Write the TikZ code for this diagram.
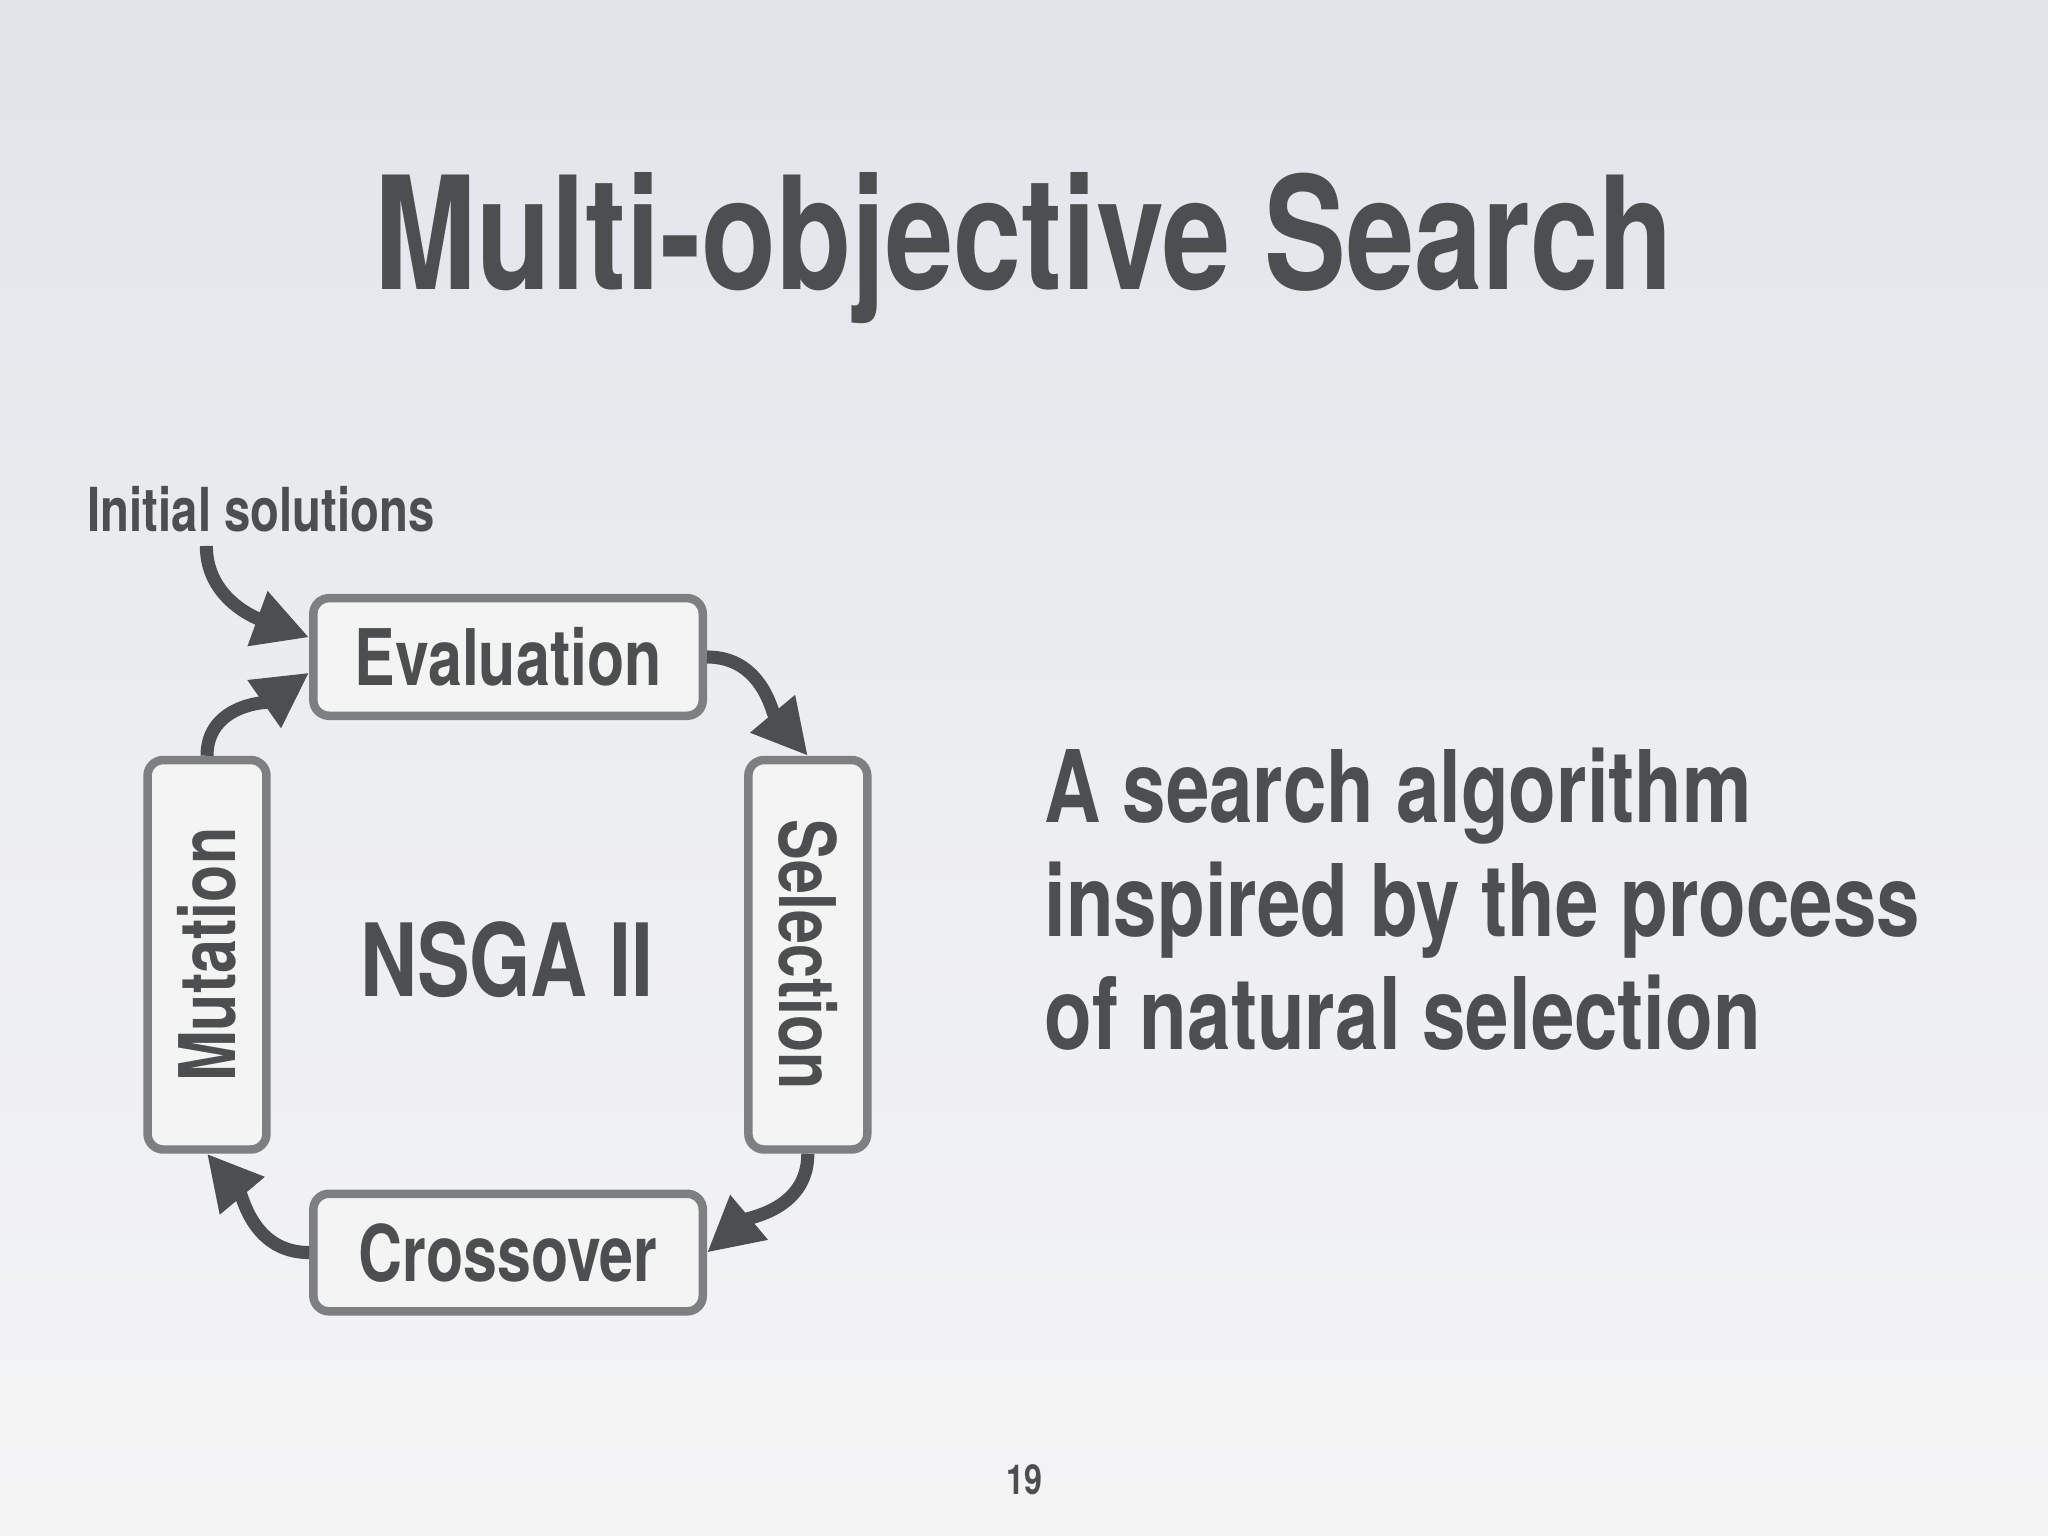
\documentclass[tikz,border=0pt]{standalone}
\usepackage{fontspec}
\setmainfont{TeX Gyre Heros}[FakeStretch=0.78]
\usetikzlibrary{arrows.meta}
\definecolor{ink}{HTML}{4D4E50}
\definecolor{boxc}{HTML}{7E7F81}
\definecolor{bgtop}{HTML}{E2E4EA}
\definecolor{bgbot}{HTML}{F4F4F5}
\begin{document}
\begin{tikzpicture}[x=0.01cm,y=-0.01cm,
  stagebox/.style={draw=boxc,line width=0.065cm,rounded corners=0.12cm,fill=bgbot,text=ink,font=\fontsize{17}{20}\selectfont\bfseries,inner sep=0pt},
  flow/.style={draw=ink,line width=0.1cm,-{Triangle[length=0.42cm,width=0.42cm]}}]
\shade[top color=bgtop,bottom color=bgbot,middle color=bgbot!60!bgtop] (0,0) rectangle (1568,1176);
\useasboundingbox (0,0) rectangle (1568,1176);
\node[text=ink,font=\fontsize{34.2}{38}\selectfont\bfseries] (title) at (784,190) {Multi-objective Search};
\node[stagebox,minimum width=2.98cm,minimum height=0.9cm] (eval) at (389,503) {Evaluation};
\node[stagebox,minimum width=2.98cm,minimum height=0.9cm] (cross) at (389,959) {Crossover};
\node[stagebox,minimum width=2.98cm,minimum height=0.91cm,rotate=-90] (sel) at (618.5,731) {Selection};
\node[stagebox,minimum width=2.98cm,minimum height=0.91cm,rotate=90] (mut) at (158.5,731) {Mutation};
\node[text=ink,font=\fontsize{22}{26}\selectfont\bfseries] (nsga) at (388,735) {NSGA II};
\node[text=ink,font=\fontsize{13.2}{15}\selectfont\bfseries] (init) at (200,390) {Initial solutions};
\coordinate (istart) at (158,418);
\node[text=ink,font=\fontsize{21.8}{24.7}\selectfont\bfseries,align=left,anchor=north west,inner sep=0pt] (desc) at (799,572) {A search algorithm\\inspired by the process\\of natural selection};
\node[text=ink,font=\fontsize{9}{11}\selectfont\bfseries] (page) at (784,1133) {19};
\draw[flow] (eval.east) to[out=0,in=130] (sel.west);
\draw[flow] (sel.east) to[out=-90,in=40] (cross.east);
\draw[flow] (cross.west) to[out=180,in=-50] (mut.west);
\draw[flow] (mut.east) to[out=90,in=-145] ([yshift=-0.12cm]eval.west);
\draw[flow] (istart) to[out=-90,in=160] ([yshift=0.15cm]eval.west);
\end{tikzpicture}
\end{document}
